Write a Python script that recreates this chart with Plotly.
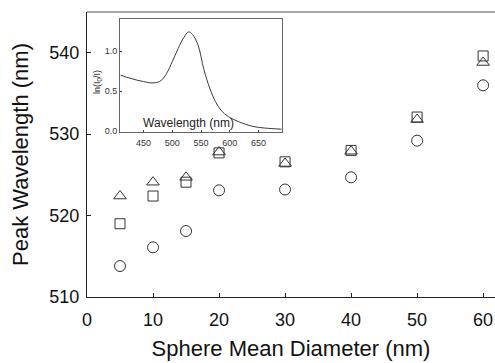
import plotly.graph_objects as go

# Main data: sphere mean diameter (nm) vs peak wavelength (nm)
diameters = [5, 10, 15, 20, 30, 40, 50, 60]
peak_circles = [513.8, 516.1, 518.1, 523.1, 523.2, 524.7, 529.2, 536.0]
peak_squares = [519.0, 522.4, 524.1, 527.7, 526.6, 528.0, 532.1, 539.6]
peak_triangles = [522.4, 524.1, 524.7, 527.8, 526.4, 527.9, 531.8, 538.8]

# Inset spectrum: wavelength (nm) vs ln(I0/I)
inset_wl = [410, 420, 430, 440, 450, 460, 470, 480, 490, 500, 510, 520, 528,
            535, 545, 555, 565, 575, 585, 598, 615, 640, 660, 690]
inset_abs = [0.70, 0.675, 0.655, 0.635, 0.62, 0.605, 0.605, 0.63, 0.72, 0.87,
             1.03, 1.17, 1.24, 1.21, 1.07, 0.77, 0.54, 0.37, 0.26, 0.18,
             0.12, 0.06, 0.04, 0.025]

main_xticks = [0, 10, 20, 30, 40, 50, 60]
main_yticks = [510, 520, 530, 540]
inset_xticks = [450, 500, 550, 600, 650]
inset_yticks = [0.0, 0.5, 1.0]

MC = "#333333"
FONT = "Liberation Sans, Arial, sans-serif"

fig = go.Figure()
fig.add_trace(go.Scatter(x=diameters, y=peak_triangles, mode="markers",
                         marker=dict(symbol="triangle-up-open", size=11,
                                     color=MC, line=dict(width=1, color=MC))))
fig.add_trace(go.Scatter(x=diameters, y=peak_squares, mode="markers",
                         marker=dict(symbol="square-open", size=10,
                                     color=MC, line=dict(width=1, color=MC))))
fig.add_trace(go.Scatter(x=diameters, y=peak_circles, mode="markers",
                         marker=dict(symbol="circle-open", size=11,
                                     color=MC, line=dict(width=1, color=MC))))

fig.add_trace(go.Scatter(x=inset_wl, y=inset_abs, mode="lines",
                         line=dict(color="#3a3a3a", width=1, shape="spline"),
                         xaxis="x2", yaxis="y2"))

fig.update_layout(
    width=495, height=363,
    margin=dict(l=87, r=0, t=12, b=66),
    paper_bgcolor="white", plot_bgcolor="white",
    showlegend=False,
    font=dict(family=FONT, color="#111111"),
    xaxis=dict(range=[0, 61.8], tickvals=main_xticks, ticks="inside",
               ticklen=4, tickcolor="#222", showline=True, linecolor="#222",
               linewidth=1, showgrid=False, zeroline=False,
               tickfont=dict(size=18), ticklabelstandoff=6,
               title=dict(text="Sphere Mean Diameter (nm)",
                          font=dict(size=22), standoff=12)),
    yaxis=dict(range=[510, 545], tickvals=main_yticks, ticks="inside",
               ticklen=4, tickcolor="#222", showline=True, linecolor="#222",
               linewidth=1, showgrid=False, zeroline=False,
               tickfont=dict(size=18), ticklabelstandoff=3,
               title=dict(text="Peak Wavelength (nm)",
                          font=dict(size=22), standoff=14)),
    xaxis2=dict(domain=[0.081, 0.478], anchor="y2", range=[409, 691],
                tickvals=inset_xticks, ticks="inside", ticklen=2,
                showline=True, mirror=True, linecolor="#666", linewidth=1,
                showgrid=False, zeroline=False, ticklabelstandoff=2,
                tickfont=dict(size=9, color="#333")),
    yaxis2=dict(domain=[0.579, 0.975], anchor="x2", range=[-0.01, 1.40],
                tickvals=inset_yticks, ticktext=["0.0", "0.5", "1.0"],
                ticks="inside", ticklen=2,
                showline=True, mirror=True, linecolor="#666", linewidth=1,
                showgrid=False, zeroline=False,
                tickfont=dict(size=9, color="#333")),
    shapes=[dict(type="line", xref="paper", yref="paper", x0=0, x1=1,
                 y0=1, y1=1, line=dict(color="#888", width=1.5))],
    annotations=[
        dict(text="Wavelength (nm)", xref="x2 domain",
             yref="y2 domain", x=0.42, y=0.0, yanchor="bottom",
             xanchor="center", showarrow=False,
             font=dict(size=12, color="#222")),
        dict(text="ln(I<sub>0</sub>/I)", xref="paper", yref="paper",
             x=0.0245, y=0.754, xanchor="center", yanchor="middle",
             textangle=-90, showarrow=False,
             font=dict(size=9, color="#222")),
    ],
)

fig.write_html("out.html")
